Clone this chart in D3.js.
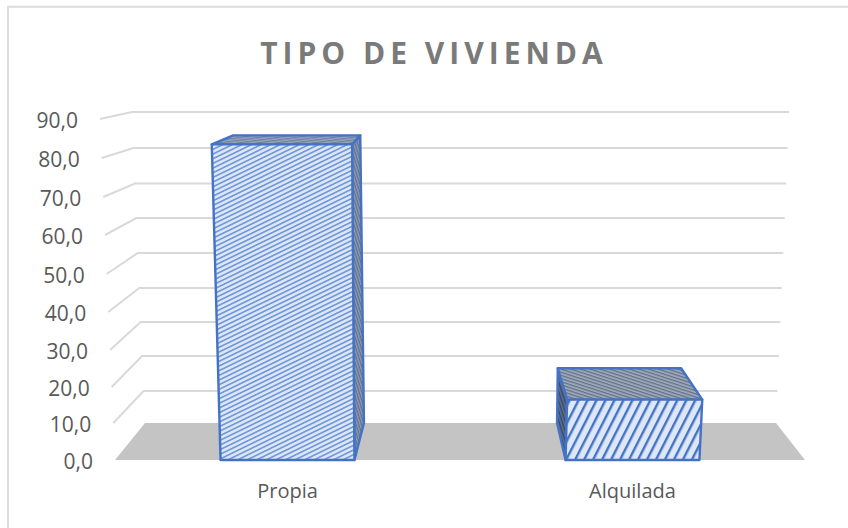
<!DOCTYPE html>
<html><head><meta charset="utf-8">
<script src="https://cdn.jsdelivr.net/npm/d3@7"></script>
<style>html,body{margin:0;padding:0;background:#fff}svg{display:block}text{font-family:"Open Sans",sans-serif}</style>
</head><body><div id="c"></div>
<script>
const titleText = "TIPO DE VIVIENDA";
const categories = ["Propia", "Alquilada"];
const values = [83.5, 16.5];
const tickValues = [0,10,20,30,40,50,60,70,80,90];
const tickLabels = ["0,0","10,0","20,0","30,0","40,0","50,0","60,0","70,0","80,0","90,0"];
const frontPlane = [460,423,387,350,312,274,235,197,158,119];
const backWall = [423,391,356,322,288,253,218,183.5,148,112];

const svg = d3.select("#c").append("svg").attr("width",848).attr("height",528);
const defs = svg.append("defs");
function hatch(id, bg, fg, angle, spacing, sw){
  const p = defs.append("pattern").attr("id",id).attr("patternUnits","userSpaceOnUse")
    .attr("width",spacing).attr("height",spacing).attr("patternTransform",`rotate(${angle})`);
  p.append("rect").attr("width",spacing).attr("height",spacing).attr("fill",bg);
  p.append("rect").attr("width",spacing).attr("height",sw).attr("fill",fg);
}
hatch("fp","#dbe6f7","#6f96d6",-26,4.2,1.6);
hatch("fa","#dde7f7","#4573c4",-63,8,2.4);
hatch("tp","#97a5bd","#6f809c",-8,2.6,1.2);
hatch("ta","#a3adbd","#5f6f88",18,3,1.3);
hatch("sp","#8d9bb3","#5f7090",72,2.6,1.2);
hatch("sa","#5d7090","#33486c",72,3,1.4);

svg.append("path").attr("d","M8,528V6.8H848").attr("fill","none").attr("stroke","#dcdcdc").attr("stroke-width",2);

const yFront = d3.scaleLinear().domain(tickValues).range(frontPlane);
const yBack  = d3.scaleLinear().domain(tickValues).range(backWall);
const leftFront  = d3.scaleLinear().domain([0,90]).range([115,100]);
const rightFront = d3.scaleLinear().domain([0,90]).range([805,826]);
const leftBack   = d3.scaleLinear().domain([0,90]).range([145,132]);
const rightBack  = d3.scaleLinear().domain([0,90]).range([776,789]);
const u = d3.scaleBand().domain(categories).range([0,1]).paddingInner(0.612).paddingOuter(0.306);
const lerp = d3.interpolateNumber;
const P = (uu,v,back)=> back
  ? [lerp(leftBack(v),rightBack(v))(uu), yBack(v)]
  : [lerp(leftFront(v),rightFront(v))(uu), yFront(v)];
const line = d3.line();

svg.append("path").attr("d",line([P(0,0,0),P(0,0,1),P(1,0,1),P(1,0,0)])+"Z").attr("fill","#c4c4c4");

svg.append("g").selectAll("path").data(tickValues.slice(1)).join("path")
  .attr("d",v=>line([P(0,v,0),P(0,v,1),P(1,v,1)]))
  .attr("fill","none").attr("stroke","#d9d9d9").attr("stroke-width",2);

svg.append("g").selectAll("text").data(tickValues).join("text")
  .attr("x",v=>leftFront(v)-22).attr("y",v=>yFront(v)+8.5).attr("text-anchor","end")
  .attr("font-size",21).attr("fill","#595959").text((v,i)=>tickLabels[i]);
svg.append("g").selectAll("text").data(categories).join("text")
  .attr("x",c=>leftFront(0)+(rightFront(0)-leftFront(0))*(u(c)+u.bandwidth()/2))
  .attr("y",498).attr("text-anchor","middle")
  .attr("font-size",20).attr("fill","#595959").text(c=>c);

const stroke = "#4472c4";
categories.forEach((c,i)=>{
  const a=u(c), b=a+u.bandwidth(), v=values[i];
  const g=svg.append("g").attr("stroke",stroke).attr("stroke-width",2.4).attr("stroke-linejoin","round");
  const ftl=P(a,v,0),ftr=P(b,v,0),fbl=P(a,0,0),fbr=P(b,0,0),
        btl=P(a,v,1),btr=P(b,v,1),bbl=P(a,0,1),bbr=P(b,0,1);
  if(i===0) g.append("path").attr("d",line([ftr,btr,bbr,fbr])+"Z").attr("fill","url(#sp)");
  else g.append("path").attr("d",line([ftl,btl,bbl,fbl])+"Z").attr("fill","url(#sa)");
  g.append("path").attr("d",line([ftl,btl,btr,ftr])+"Z").attr("fill",i===0?"url(#tp)":"url(#ta)");
  g.append("path").attr("d",line([ftl,ftr,fbr,fbl])+"Z").attr("fill",i===0?"url(#fp)":"url(#fa)");
});

svg.append("text").attr("x",434).attr("y",63.5).attr("text-anchor","middle")
  .attr("font-size",30).attr("font-weight",700).attr("letter-spacing",5).attr("fill","#7a7a7a").text(titleText);
</script></body></html>
